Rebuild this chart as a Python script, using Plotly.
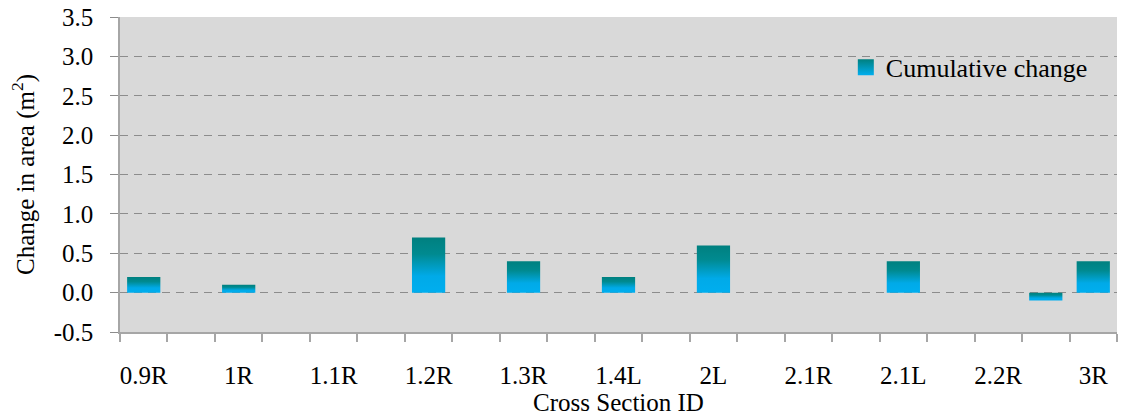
import plotly.graph_objects as go

# ---- data ----
slot_labels = ["0.9R", "", "1R", "", "1.1R", "", "1.2R", "", "1.3R", "", "1.4L", "",
               "2L", "", "2.1R", "", "2.1L", "", "2.2R", "", "3R"]
cumulative_change = [0.2, None, 0.1, None, None, None, 0.7, None, 0.4, None, 0.2, None,
                     0.6, None, None, None, 0.4, None, None, -0.1, 0.4]
series_name = "Cumulative change"
y_ticks = [-0.5, 0.0, 0.5, 1.0, 1.5, 2.0, 2.5, 3.0, 3.5]

# ---- style ----
FONT = "Liberation Serif"
FS = 25
GRAD = [[0.0, "#00AEEF"], [0.3, "#00AAE8"], [0.7, "#008A90"], [1.0, "#00807F"]]
BAR_W = 0.7

fig = go.Figure()
positions = list(range(len(slot_labels)))
for pos, val in zip(positions, cumulative_change):
    if val is None:
        continue
    x0, x1 = pos - BAR_W / 2, pos + BAR_W / 2
    fig.add_trace(go.Scatter(
        x=[x0, x1, x1, x0, x0], y=[0, 0, val, val, 0],
        mode="none", fill="toself",
        fillgradient=dict(type="vertical", colorscale=GRAD),
        showlegend=False, hoverinfo="skip",
    ))

# legend entry
fig.add_trace(go.Scatter(
    x=[None], y=[None], mode="markers", name=series_name,
    marker=dict(symbol="square", size=16, color="#00807F",
                gradient=dict(type="vertical", color="#00AEEF")),
))

label_pos = [p for p, lab in zip(positions, slot_labels) if lab]
label_txt = [lab for lab in slot_labels if lab]

fig.update_layout(
    width=1133, height=417,
    margin=dict(l=120, r=16, t=17, b=85, autoexpand=False),
    paper_bgcolor="white", plot_bgcolor="#D9D9D9",
    font=dict(family=FONT, size=FS, color="black"),
    showlegend=True,
    legend=dict(x=0.728, y=0.84, xanchor="left", yanchor="middle",
                bgcolor="rgba(0,0,0,0)", font=dict(size=26, family=FONT),
                itemwidth=30),
)

fig.update_xaxes(
    automargin=False,
    range=[-0.5, len(slot_labels) - 0.5],
    tickmode="array", tickvals=label_pos, ticktext=label_txt,
    ticks="outside", ticklen=0, ticklabelstandoff=20,
    minor=dict(tickmode="array",
               tickvals=[p - 0.5 for p in positions] + [positions[-1] + 0.5],
               ticks="outside", ticklen=8, tickcolor="#A6A6A6", tickwidth=1.5,
               showgrid=False),
    showgrid=False, zeroline=False,
    showline=True, linecolor="#A6A6A6", linewidth=1.5,
    title=dict(text="Cross Section ID", standoff=0, font=dict(size=FS, family=FONT)),
    tickfont=dict(size=FS, family=FONT),
)

fig.update_yaxes(
    automargin=False,
    range=[-0.5, 3.5],
    tickmode="array", tickvals=y_ticks, ticktext=[f"{v:.1f}" for v in y_ticks],
    ticks="outside", ticklen=8, tickcolor="#8C8C8C", tickwidth=1,
    ticklabelstandoff=12,
    showgrid=True, gridcolor="#8C8C8C", gridwidth=1, griddash="8px,6px",
    zeroline=False,
    showline=True, linecolor="#A6A6A6", linewidth=1.5,
    title=dict(text="Change in area (m<sup>2</sup>)", standoff=12,
               font=dict(size=FS, family=FONT)),
    tickfont=dict(size=FS, family=FONT),
)

fig.write_html("out.html", config={"displayModeBar": False},
               post_script="document.body.style.margin='0';")
